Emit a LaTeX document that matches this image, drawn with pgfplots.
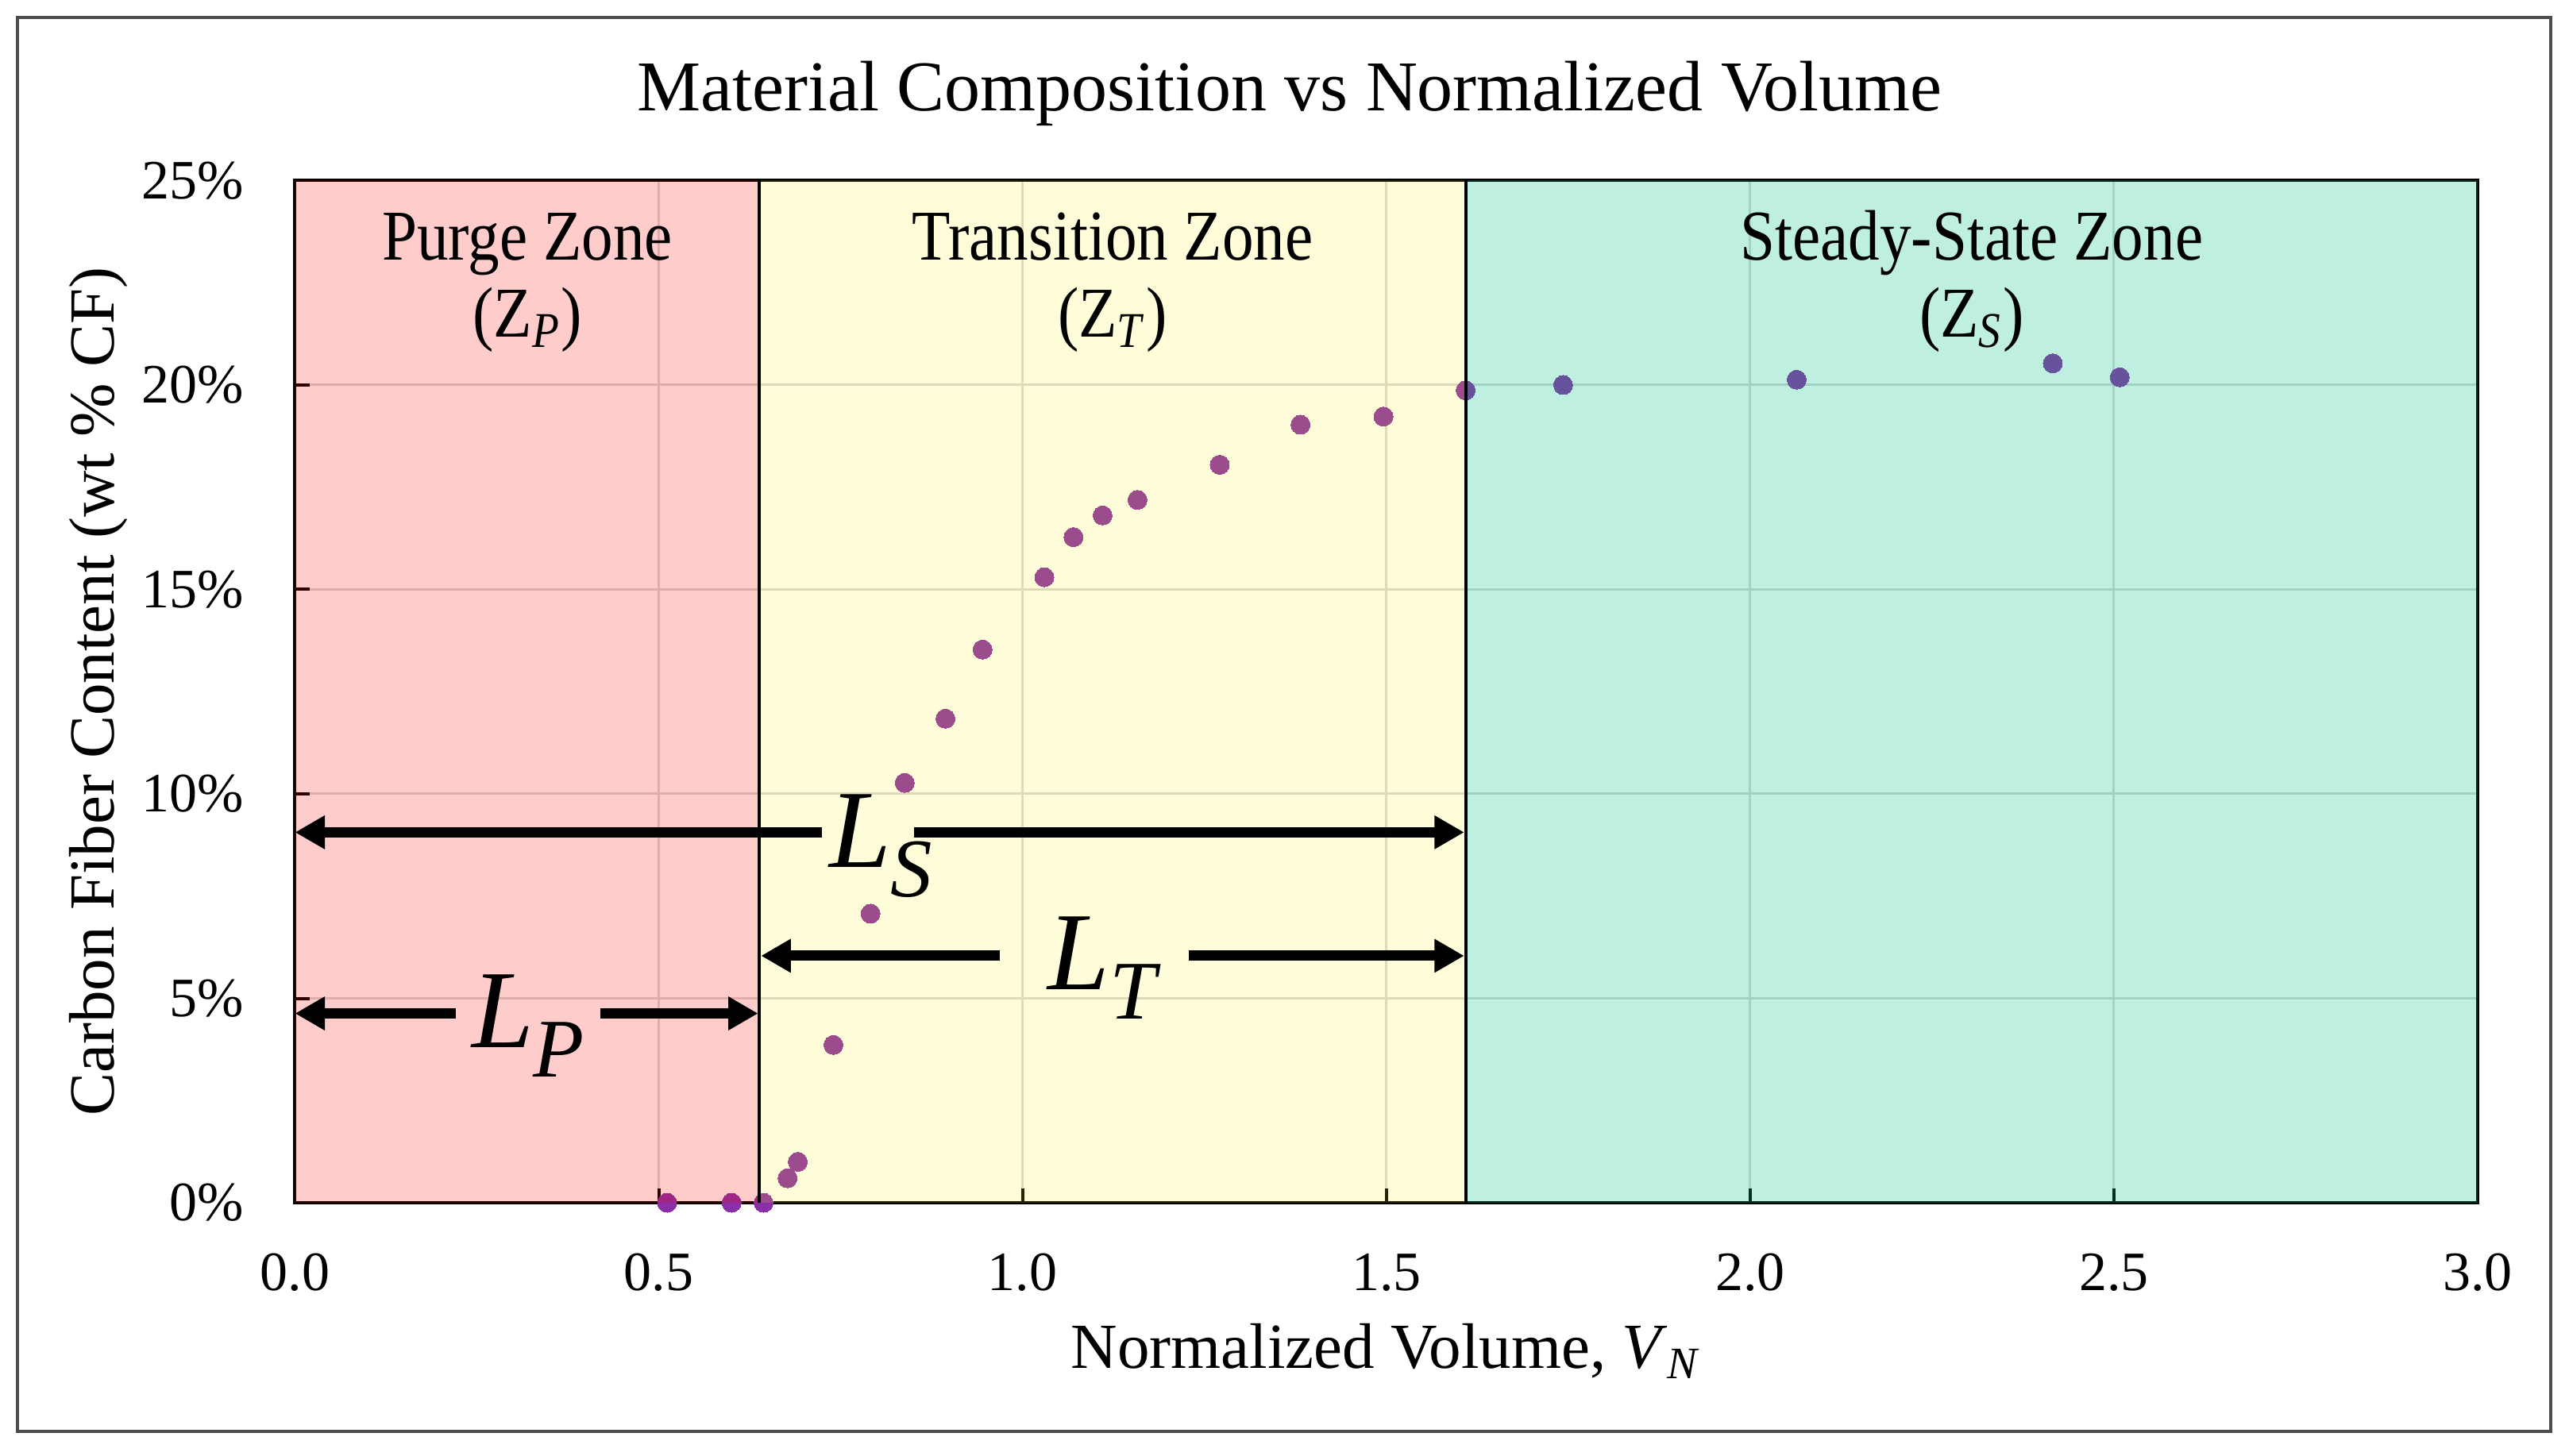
\documentclass[border=0pt]{standalone}
\usepackage{pgfplots}
\pgfplotsset{compat=1.18}
\usetikzlibrary{arrows.meta}
\usepackage{fontspec}
\setmainfont{Liberation Serif}
\newfontfamily\condfont[FakeStretch=0.88]{Liberation Serif}

\definecolor{ptcol}{RGB}{138,48,166}
\definecolor{gridcol}{RGB}{217,217,217}
\definecolor{zgreen}{RGB}{0,190,130}

\begin{document}
\begin{tikzpicture}
\path[use as bounding box] (0,0) rectangle (647pt,366.6pt);
\draw[gray!60!black, line width=0.8pt] (4.4pt,6pt) rectangle (642.4pt,362.2pt);
\node[anchor=base, font=\fontsize{18}{20}\selectfont, inner sep=0pt] at (324.8pt,338.6pt) {Material Composition vs Normalized Volume};
\begin{axis}[
  at={(74.3pt,63.6pt)}, anchor=south west,
  scale only axis, width=549.7pt, height=257.5pt,
  xmin=0, xmax=3, ymin=0, ymax=25,
  clip=false, clip marker paths=true,
  xtick={0,0.5,1,1.5,2,2.5,3},
  xticklabels={0.0,0.5,1.0,1.5,2.0,2.5,3.0},
  ytick={0,5,10,15,20,25},
  yticklabels={0\%,5\%,10\%,15\%,20\%,25\%},
  tick pos=left,
  tick align=inside, major tick length=3.6pt,
  tick style={black, line width=0.8pt},
  grid=major, major grid style={gridcol, line width=0.6pt},
  axis line style={black, line width=0.8pt},
  ticklabel style={font=\fontsize{14}{16}\selectfont, inner sep=0pt},
  xticklabel style={anchor=north, yshift=-12.6pt},
  yticklabel style={anchor=east, xshift=-12.8pt},
  xlabel={Normalized Volume, \textit{V}\textsubscript{\textit{N}}},
  ylabel={Carbon Fiber Content (wt \% CF)},
  label style={font=\fontsize{16.2}{18}\selectfont, inner sep=0pt},
  xlabel style={at={(axis description cs:0.5,-0.1623)}, anchor=base},
  ylabel style={at={(axis description cs:-0.09005,0.5)}, anchor=center},
]
\addplot[only marks, draw=none, mark=*, mark size=2.4pt, mark options={draw=ptcol, line width=0pt, fill=ptcol}] coordinates {
(0.5115,0) (0.600,0) (0.644,0) (0.677,0.60) (0.691,1.00) (0.740,3.86)
(0.791,7.07) (0.838,10.27) (0.894,11.84) (0.945,13.53) (1.030,15.30)
(1.070,16.28) (1.110,16.81) (1.158,17.19) (1.271,18.05) (1.382,19.03)
(1.496,19.23) (1.609,19.87) (1.743,20.00) (2.064,20.13) (2.416,20.53) (2.508,20.19)
};
\addplot[draw=none, fill=red, fill opacity=0.2, forget plot] coordinates {(0,0) (0.6385,0) (0.6385,25) (0,25)} -- cycle;
\addplot[draw=none, fill=yellow, fill opacity=0.15, forget plot] coordinates {(0.6385,0) (1.609,0) (1.609,25) (0.6385,25)} -- cycle;
\addplot[draw=none, fill=zgreen, fill opacity=0.25, forget plot] coordinates {(1.609,0) (3,0) (3,25) (1.609,25)} -- cycle;
\draw[black, line width=0.8pt] (axis cs:0.6385,0) -- (axis cs:0.6385,25);
\draw[black, line width=0.8pt] (axis cs:1.609,0) -- (axis cs:1.609,25);
% arrows
\draw[line width=2.6pt, -{Triangle[length=7.5pt,width=8pt]}] (axis cs:0.724,9.06) -- (axis cs:0,9.06);
\draw[line width=2.6pt, -{Triangle[length=7.5pt,width=8pt]}] (axis cs:0.851,9.06) -- (axis cs:1.607,9.06);
\draw[line width=2.6pt, -{Triangle[length=7.5pt,width=8pt]}] (axis cs:0.969,6.04) -- (axis cs:0.6405,6.04);
\draw[line width=2.6pt, -{Triangle[length=7.5pt,width=8pt]}] (axis cs:1.228,6.04) -- (axis cs:1.607,6.04);
\draw[line width=2.6pt, -{Triangle[length=7.5pt,width=8pt]}] (axis cs:0.221,4.63) -- (axis cs:0,4.63);
\draw[line width=2.6pt, -{Triangle[length=7.5pt,width=8pt]}] (axis cs:0.42,4.63) -- (axis cs:0.6365,4.63);
\node[anchor=base west, inner sep=0pt, font=\fontsize{28}{30}\selectfont] at (axis cs:0.733,8.2) {\textit{L}\raisebox{-7.3pt}{\fontsize{21}{22}\selectfont\textit{S}}};
\node[anchor=base west, inner sep=0pt, font=\fontsize{28}{30}\selectfont] at (axis cs:1.034,5.21) {\textit{L}\raisebox{-7.3pt}{\fontsize{21}{22}\selectfont\textit{T}}};
\node[anchor=base west, inner sep=0pt, font=\fontsize{28}{30}\selectfont] at (axis cs:0.2418,3.79) {\textit{L}\raisebox{-7.3pt}{\fontsize{21}{22}\selectfont\textit{P}}};
% zone labels
\node[anchor=base, inner sep=0pt, font=\condfont\fontsize{18}{20}\selectfont] at (axis cs:0.3193,23.05) {Purge Zone};
\node[anchor=base, inner sep=0pt, font=\condfont\fontsize{18}{20}\selectfont] at (axis cs:0.3193,21.18) {(Z\textsubscript{\textit{P}})};
\node[anchor=base, inner sep=0pt, font=\condfont\fontsize{18}{20}\selectfont] at (axis cs:1.1238,23.05) {Transition Zone};
\node[anchor=base, inner sep=0pt, font=\condfont\fontsize{18}{20}\selectfont] at (axis cs:1.1238,21.18) {(Z\textsubscript{\textit{T}})};
\node[anchor=base, inner sep=0pt, font=\condfont\fontsize{18}{20}\selectfont] at (axis cs:2.3045,23.05) {Steady-State Zone};
\node[anchor=base, inner sep=0pt, font=\condfont\fontsize{18}{20}\selectfont] at (axis cs:2.3045,21.18) {(Z\textsubscript{\textit{S}})};
\end{axis}
\end{tikzpicture}
\end{document}
